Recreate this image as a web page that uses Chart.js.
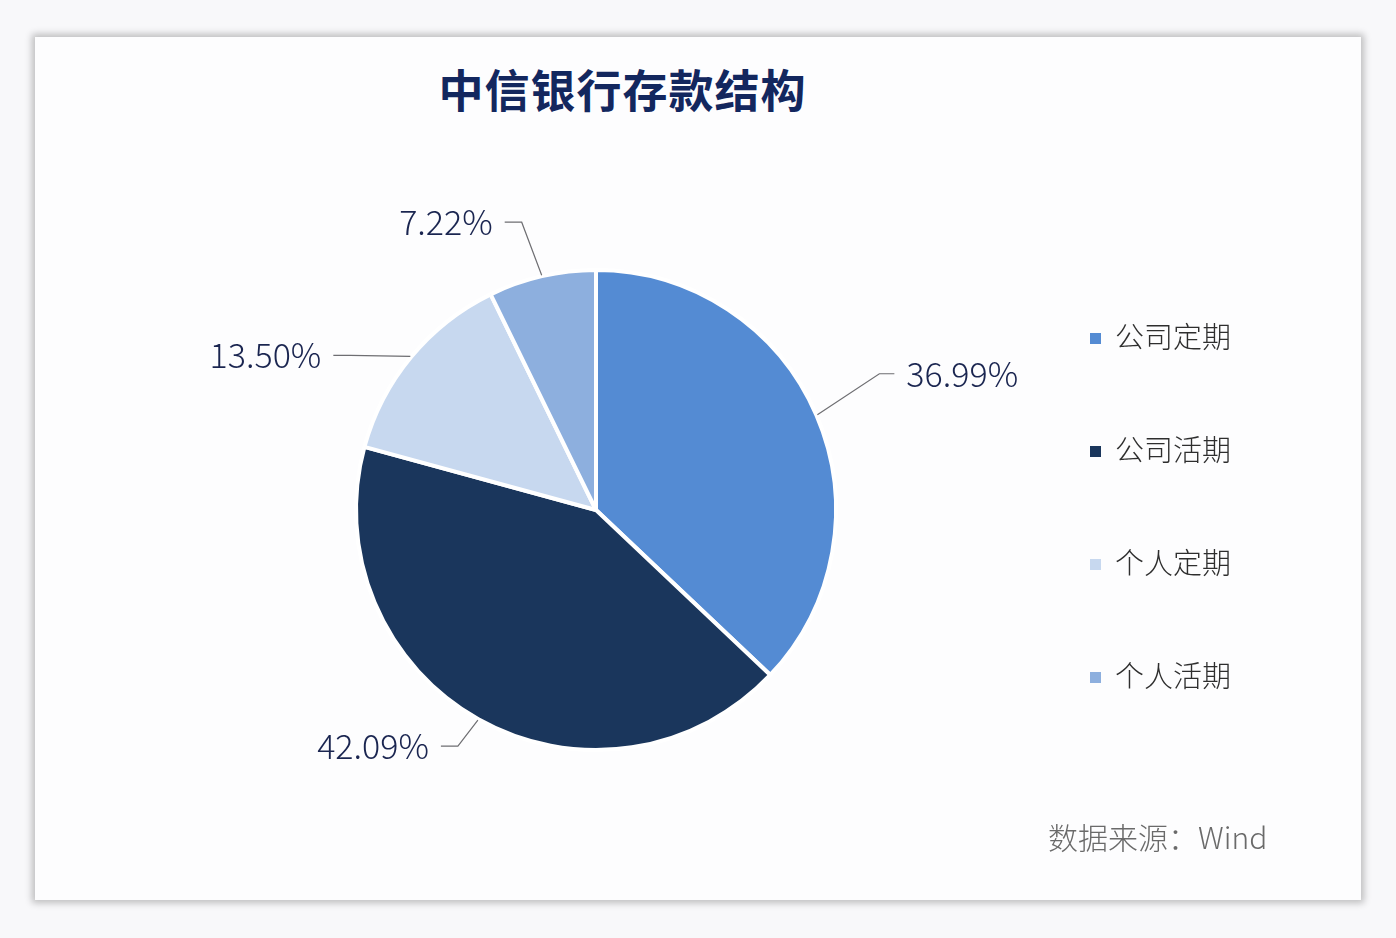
<!DOCTYPE html>
<html>
<head>
<meta charset="utf-8">
<script src="https://cdn.jsdelivr.net/npm/chart.js@4/dist/chart.umd.min.js"></script>
<style>
    html, body { margin: 0; padding: 0; background: #f8f8fa; }
    body { width: 1396px; height: 938px; position: relative; overflow: hidden;
        font-family: "Noto Sans CJK SC", "Noto Sans", sans-serif; }
    .card { position: absolute; left: 35px; top: 37px; width: 1326px; height: 863px;
        background: #fdfdfe; box-shadow: 0 0 7px 3px rgba(0, 0, 0, 0.24); }
    .title { position: absolute; left: 400px; top: 19px; width: 375px; text-align: center;
        font-size: 45px; font-weight: 700; color: #13275e; letter-spacing: 1px; white-space: nowrap; }
    .chart-box { position: absolute; left: 0; top: 0; width: 1326px; height: 863px; }
    .legend { position: absolute; left: 1055px; top: 277px; }
    .legend-item { height: 113px; display: flex; align-items: flex-start; font-size: 29px;
        color: #2e2e2e; font-weight: 300; }
    .legend-item span.box { width: 11px; height: 11px; margin: 19px 14px 0 0; display: inline-block; }
    .source { position: absolute; left: 1013px; top: 777px; font-size: 30px; color: #6a6a6a;
        font-weight: 300; white-space: nowrap; }
</style>
</head>
<body>
<div class="card">
    <div class="title">中信银行存款结构</div>
    <div class="chart-box"><canvas id="deposit-pie"></canvas></div>
    <div class="legend" id="legend"></div>
    <div class="source">数据来源：Wind</div>
</div>
<script>
// Data
const categories = ['公司定期', '公司活期', '个人定期', '个人活期'];
const shares = [36.99, 42.09, 13.50, 7.22];
const sliceColors = ['#548bd3', '#1a365c', '#c7d8ef', '#8dafde'];

// leader line layout per slice: elbow offset from arc edge, then horizontal run
const leaderLayout = [
    { dx: 62, dy: -41, run: 15 },
    { dx: -20, dy: 26, run: -17 },
    { dx: -60, dy: -1, run: -17 },
    { dx: -20, dy: -53, run: -17 }
];

// Leader lines + percentage labels
const leaderLabels = {
    id: 'leaderLabels',
    afterDatasetsDraw(chart) {
        const ctx = chart.ctx;
        const arcs = chart.getDatasetMeta(0).data;
        ctx.save();
        arcs.forEach((arc, i) => {
            const p = arc.getProps(['x', 'y', 'startAngle', 'endAngle', 'outerRadius'], true);
            const mid = (p.startAngle + p.endAngle) / 2;
            const r = p.outerRadius + 1;
            const sx = p.x + Math.cos(mid) * r;
            const sy = p.y + Math.sin(mid) * r;
            const lay = leaderLayout[i];
            const ex = sx + lay.dx;
            const ey = sy + lay.dy;
            const tx = ex + lay.run;

            ctx.strokeStyle = '#6e6e72';
            ctx.lineWidth = 1.2;
            ctx.beginPath();
            ctx.moveTo(sx, sy);
            ctx.lineTo(ex, ey);
            ctx.lineTo(tx, ey);
            ctx.stroke();

            ctx.fillStyle = '#1a2550';
            ctx.font = '300 34px "Noto Sans CJK SC", "Noto Sans", sans-serif';
            ctx.textBaseline = 'middle';
            if (lay.run > 0) {
                ctx.textAlign = 'left';
                ctx.fillText(shares[i].toFixed(2) + '%', tx + 12, ey);
            } else {
                ctx.textAlign = 'right';
                ctx.fillText(shares[i].toFixed(2) + '%', tx - 12, ey);
            }
        });
        ctx.restore();
    }
};

const pieChart = new Chart(document.getElementById('deposit-pie').getContext('2d'), {
    type: 'pie',
    data: {
        labels: categories,
        datasets: [{
            data: shares,
            backgroundColor: sliceColors,
            borderColor: '#ffffff',
            borderWidth: 4
        }]
    },
    options: {
        responsive: true,
        maintainAspectRatio: false,
        animation: false,
        layout: {
            padding: { left: 319, right: 523, top: 231, bottom: 148 }
        },
        plugins: {
            legend: { display: false },
            tooltip: { enabled: false }
        }
    },
    plugins: [leaderLabels]
});

// HTML legend built from the same arrays
const legendEl = document.getElementById('legend');
categories.forEach((name, i) => {
    const item = document.createElement('div');
    item.className = 'legend-item';
    const box = document.createElement('span');
    box.className = 'box';
    box.style.backgroundColor = sliceColors[i];
    const text = document.createElement('span');
    text.textContent = name;
    item.appendChild(box);
    item.appendChild(text);
    legendEl.appendChild(item);
});
</script>
</body>
</html>
